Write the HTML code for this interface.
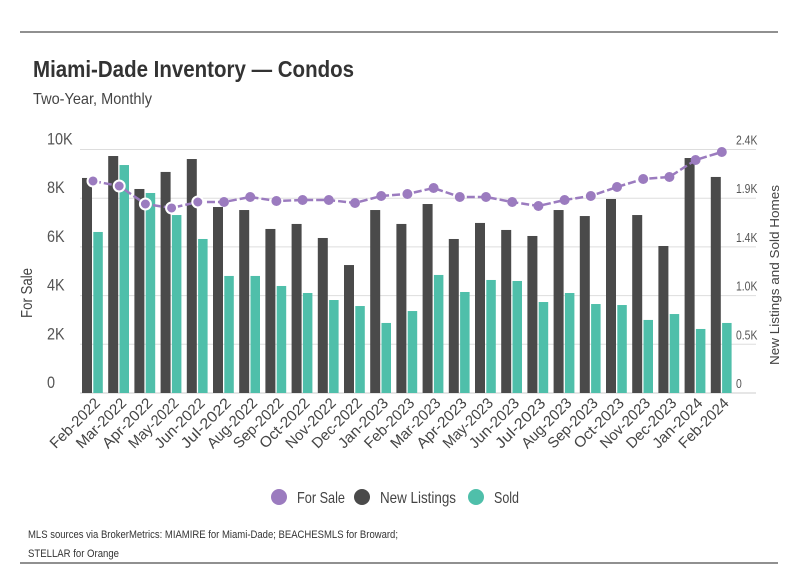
<!DOCTYPE html>
<html><head><meta charset="utf-8"><style>
body{margin:0;background:#fff;width:798px;height:575px;overflow:hidden;font-family:"Liberation Sans",sans-serif;}
svg{display:block}
</style></head><body>
<svg width="798" height="575" id="chart">
<line x1="20" y1="32" x2="778" y2="32" stroke="#222" stroke-width="1"/>
<line x1="20" y1="563" x2="778" y2="563" stroke="#222" stroke-width="1"/>
<text x="33" y="77" font-size="23" font-weight="bold" fill="#333" textLength="321" lengthAdjust="spacingAndGlyphs">Miami-Dade Inventory — Condos</text>
<text x="33" y="104" font-size="16" fill="#444" textLength="119" lengthAdjust="spacingAndGlyphs">Two-Year, Monthly</text>
<text transform="translate(32,293) rotate(-90)" text-anchor="middle" font-size="16" fill="#444" textLength="50" lengthAdjust="spacingAndGlyphs">For Sale</text>
<text transform="translate(779,275) rotate(-90)" text-anchor="middle" font-size="13" fill="#444" textLength="180" lengthAdjust="spacingAndGlyphs">New Listings and Sold Homes</text>
<g id="grid"></g><g id="bars"></g><g id="line"></g><g id="xlabels"></g>
<g>
<circle cx="279" cy="497" r="8" fill="#9b7bbf"/>
<text x="297" y="503" font-size="16" fill="#444" textLength="48" lengthAdjust="spacingAndGlyphs">For Sale</text>
<circle cx="362" cy="497" r="8" fill="#4a4a4a"/>
<text x="380" y="503" font-size="16" fill="#444" textLength="76" lengthAdjust="spacingAndGlyphs">New Listings</text>
<circle cx="476" cy="497" r="8" fill="#4fbfaa"/>
<text x="494" y="503" font-size="16" fill="#444" textLength="25" lengthAdjust="spacingAndGlyphs">Sold</text>
</g>
<text x="28" y="538" font-size="11" fill="#333" textLength="370" lengthAdjust="spacingAndGlyphs">MLS sources via BrokerMetrics: MIAMIRE for Miami-Dade; BEACHESMLS for Broward;</text>
<text x="28" y="557" font-size="11" fill="#333" textLength="91" lengthAdjust="spacingAndGlyphs">STELLAR for Orange</text>
</svg>
<script>
const months=["Feb-2022","Mar-2022","Apr-2022","May-2022","Jun-2022","Jul-2022","Aug-2022","Sep-2022","Oct-2022","Nov-2022","Dec-2022","Jan-2023","Feb-2023","Mar-2023","Apr-2023","May-2023","Jun-2023","Jul-2023","Aug-2023","Sep-2023","Oct-2023","Nov-2023","Dec-2023","Jan-2024","Feb-2024"];
const forSale=[8707,8501,7762,7598,7844,7844,8050,7885,7926,7926,7803,8091,8173,8419,8050,8050,7844,7680,7926,8091,8460,8789,8871,9569,9898];
const newListings=[2146,2365,2036,2206,2335,1856,1826,1637,1687,1547,1277,1826,1687,1886,1537,1697,1627,1567,1826,1766,1936,1776,1467,2345,2156];
const sold=[1607,2275,1996,1776,1537,1168,1168,1068,998,928,868,699,818,1178,1008,1128,1118,908,998,888,878,729,788,639,699];
const leftTicks=[0,2000,4000,6000,8000,10000];
const leftTickLabels=["0","2K","4K","6K","8K","10K"];
const rightTicks=[0,486,972,1458,1944,2430];
const rightTickLabels=["0","0.5K","1.0K","1.4K","1.9K","2.4K"];
const LMAX=10000,RMAX=2430;
const Y0=393,YT=149.5,X0=79,BW=26.2;
const yL=v=>Y0-(v/LMAX)*(Y0-YT);
const yR=v=>Y0-(v/RMAX)*(Y0-YT);
const xB=i=>X0+i*BW;
const NS="http://www.w3.org/2000/svg";
function mk(t,a,p){const e=document.createElementNS(NS,t);for(const k in a)e.setAttribute(k,a[k]);p.appendChild(e);return e;}
const grid=document.getElementById('grid');
leftTicks.forEach((v,i)=>{
 const l=mk('line',{x1:80,x2:756,y1:yL(v),y2:yL(v),stroke:i==0?'#ccc':'#ddd','stroke-width':1},grid);
 
 
 const t=mk('text',{transform:`translate(47,${yL(v)-5}) scale(0.85,1)`,'font-size':17,fill:'#555'},grid);t.textContent=leftTickLabels[i];
 
 
});
rightTicks.forEach((v,i)=>{
 const t=mk('text',{transform:`translate(736,${yR(v)-5}) scale(0.8,1)`,'font-size':13,fill:'#555'},grid);t.textContent=rightTickLabels[i];
 
 
});
const bars=document.getElementById('bars');
months.forEach((m,i)=>{
 const x=xB(i);
 const b=mk('rect',{x:x+3,y:yR(newListings[i]),width:10,height:Y0-yR(newListings[i]),fill:'#4a4a4a'},bars);
 
 
 const s=mk('rect',{x:x+14.3,y:yR(sold[i]),width:9.5,height:Y0-yR(sold[i]),fill:'#4fbfaa'},bars);
 
 
 const t=mk('text',{'text-anchor':'end','font-size':15,fill:'#444',textLength:64,lengthAdjust:'spacingAndGlyphs',transform:`translate(${x+22},${404}) rotate(-45)`},document.getElementById('xlabels'));
 t.textContent=m;
 
 
});
const lg=document.getElementById('line');
const pts=forSale.map((v,i)=>[xB(i)+14,yL(v)]);
const pl=mk('polyline',{points:pts.map(p=>p.join(',')).join(' '),fill:'none',stroke:'#9b7bbf','stroke-width':2.5,'stroke-dasharray':'8 3'},lg);


pts.forEach((p,i)=>{
 const c=mk('circle',{cx:p[0],cy:p[1],r:i<5?5.5:5,fill:'#9b7bbf',stroke:'#fff','stroke-width':i<5?2:0},lg);
 
 
});
</script>
</body></html>
